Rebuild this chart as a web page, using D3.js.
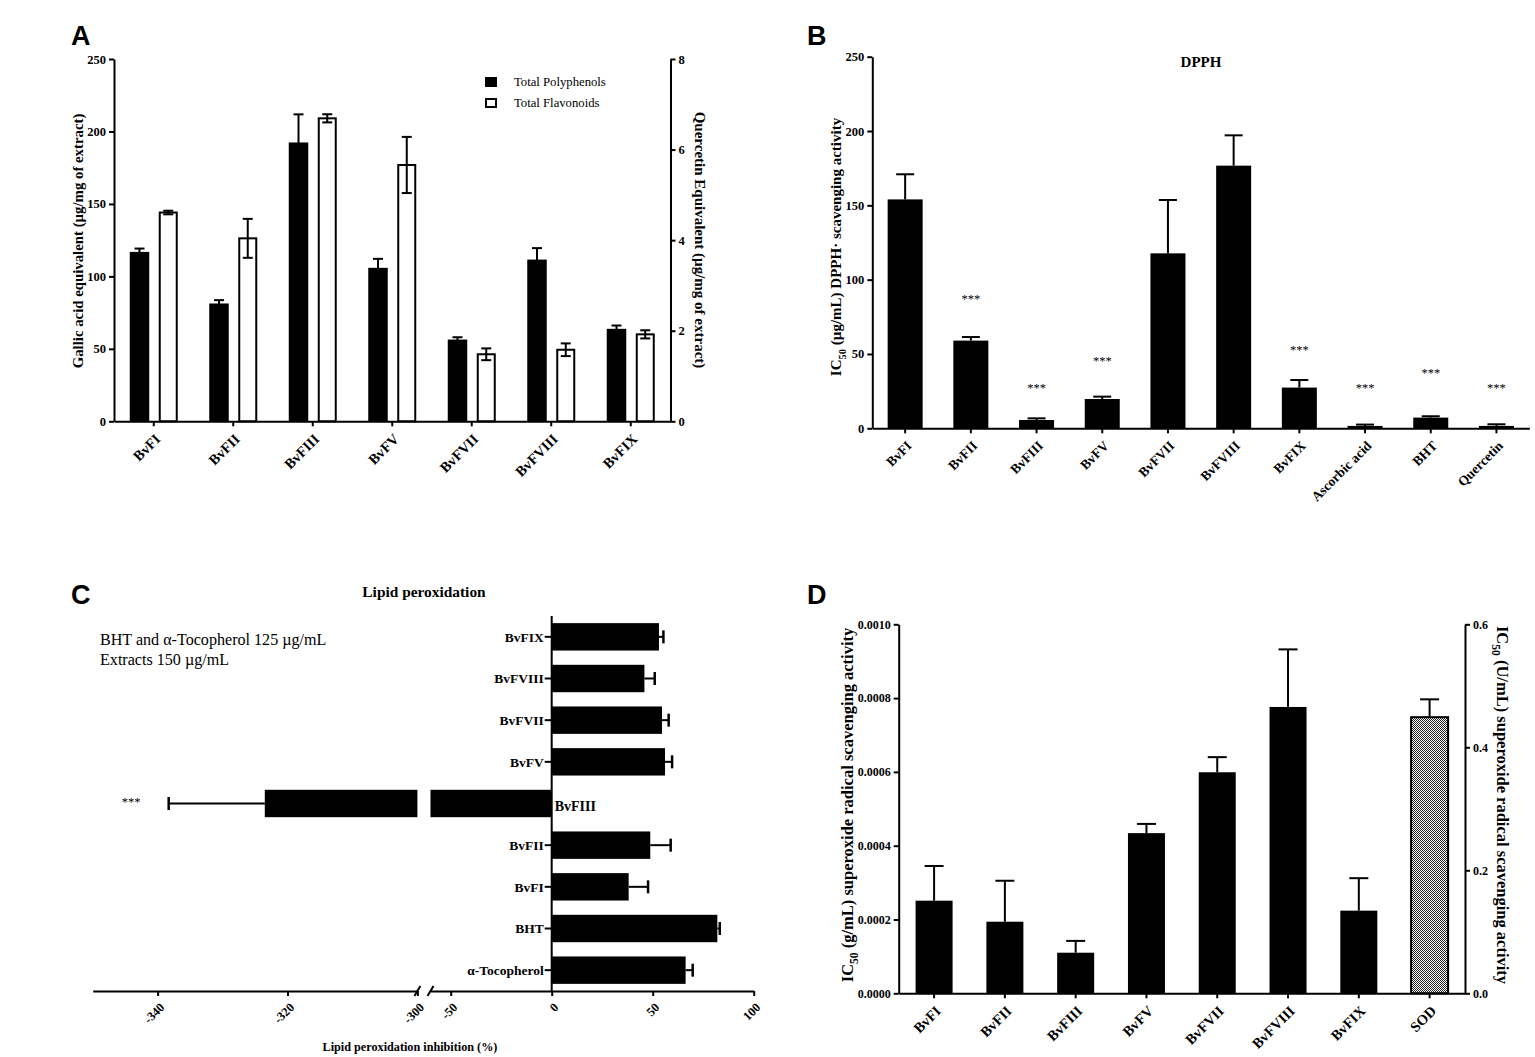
<!DOCTYPE html>
<html>
<head>
<meta charset="utf-8">
<script src="https://cdn.jsdelivr.net/npm/d3@7"></script>
<style>
  body { margin: 0; background: #fff; }
</style>
</head>
<body>
<div id="chart"></div>
<script>
// ---- data ----
// A: total polyphenols (left axis) and flavonoids (right axis)
var catsA = ["BvFI", "BvFII", "BvFIII", "BvFV", "BvFVII", "BvFVIII", "BvFIX"];
var polyphenols = [116.9, 81.3, 192.4, 105.9, 56.4, 111.6, 63.8];
var polyphenolsErr = [2.3, 2.3, 19.4, 6.2, 1.6, 7.9, 2.3];
var flavonoids = [4.61, 4.04, 6.69, 5.66, 1.48, 1.58, 1.92];
var flavonoidsErr = [0.04, 0.43, 0.09, 0.62, 0.13, 0.14, 0.09];
var ticksA = [0, 50, 100, 150, 200, 250];
var ticksA2 = [0, 2, 4, 6, 8];

// B: DPPH IC50
var catsB = ["BvFI", "BvFII", "BvFIII", "BvFV", "BvFVII", "BvFVIII", "BvFIX", "Ascorbic acid", "BHT", "Quercetin"];
var dpph = [154.0, 59.0, 5.6, 19.7, 117.7, 176.7, 27.4, 1.6, 7.2, 1.6];
var dpphErr = [16.9, 2.4, 1.1, 1.6, 35.9, 20.4, 5.1, 0.9, 0.9, 1.1];
var dpphSig = ["", "***", "***", "***", "", "", "***", "***", "***", "***"];
var dpphSigLevel = [0, 87, 27.6, 45.3, 0, 0, 52.7, 27.6, 37.4, 27.6];
var ticksB = [0, 50, 100, 150, 200, 250];

// C: lipid peroxidation inhibition (bottom to top)
var catsC = ["α-Tocopherol", "BHT", "BvFI", "BvFII", "BvFIII", "BvFV", "BvFVII", "BvFVIII", "BvFIX"];
var lipid = [66.3, 82.0, 38.1, 48.8, -323.5, 56.1, 54.6, 45.9, 53.1];
var lipidErr = [3.5, 1.2, 9.6, 10.1, 14.8, 3.5, 3.3, 5.1, 2.2];
var lipidSig = ["", "", "", "", "***", "", "", "", ""];
var ticksCLeft = [-340, -320, -300];
var ticksCRight = [-50, 0, 50, 100];

// D: superoxide radical scavenging IC50
var catsD = ["BvFI", "BvFII", "BvFIII", "BvFV", "BvFVII", "BvFVIII", "BvFIX", "SOD"];
var superoxide = [0.000251, 0.000194, 0.000110, 0.000434, 0.000599, 0.000776, 0.000224];
var superoxideErr = [0.000094, 0.000111, 0.000032, 0.000025, 0.000041, 0.000156, 0.000088];
var sodIC50 = [0.449];
var sodErr = [0.029];
var ticksD = [0, 0.0002, 0.0004, 0.0006, 0.0008, 0.0010];
var ticksD2 = [0, 0.2, 0.4, 0.6];

var serif = "'Liberation Serif', 'Times New Roman', serif";
var sans = "'Liberation Sans', Arial, sans-serif";

var svgWidth = 1535;
var svgHeight = 1057;

var svg = d3.select("#chart")
  .append("svg")
  .attr("width", svgWidth)
  .attr("height", svgHeight)
  .style("background", "#fff");

var defs = svg.append("defs");
var pat = defs.append("pattern")
  .attr("id", "checker")
  .attr("width", 2).attr("height", 2)
  .attr("patternUnits", "userSpaceOnUse");
pat.append("rect").attr("width", 2).attr("height", 2).attr("fill", "#fff");
pat.append("rect").attr("width", 1).attr("height", 1).attr("fill", "#222");
pat.append("rect").attr("x", 1).attr("y", 1).attr("width", 1).attr("height", 1).attr("fill", "#222");

// helpers
function styleAxis(g, size) {
  g.attr("font-family", serif).attr("font-size", size).attr("font-weight", "bold");
  g.select(".domain").attr("stroke-width", 2);
  g.selectAll(".tick line").attr("stroke-width", 2);
  return g;
}

function rotateLabels(g, dx, dy) {
  g.selectAll(".tick text")
    .attr("x", 0).attr("y", 0)
    .attr("dy", "0.35em")
    .attr("text-anchor", "end")
    .attr("transform", "translate(" + dx + "," + dy + ") rotate(-45)");
}

function panelLetter(txt, x, y) {
  svg.append("text")
    .attr("x", x).attr("y", y)
    .attr("font-family", sans)
    .attr("font-weight", "bold")
    .attr("font-size", 27)
    .text(txt);
}

function axisTitle(x, y, angle, size) {
  return svg.append("text")
    .attr("transform", "translate(" + x + "," + y + ") rotate(" + angle + ")")
    .attr("text-anchor", "middle")
    .attr("dy", "0.35em")
    .attr("font-family", serif)
    .attr("font-weight", "bold")
    .attr("font-size", size);
}

function icTitle(t, rest, size) {
  t.append("tspan").text("IC");
  t.append("tspan").attr("dy", size * 0.3).attr("font-size", size * 0.7).text("50");
  t.append("tspan").attr("dy", -size * 0.3).text(rest);
}

var plainNum = function(d) { return String(d); };

// =========================== Panel A ===========================
var frameA = { left: 114, right: 670.5, top: 59, bottom: 421.3 };
var xA = d3.scaleBand().domain(catsA).range([frameA.left, frameA.right]);
var yA = d3.scaleLinear().domain([0, 250]).range([frameA.bottom, frameA.top]);
var yA2 = d3.scaleLinear().domain([0, 8]).range([frameA.bottom, frameA.top]);
var midA = function(c) { return xA(c) + xA.bandwidth() / 2; };

var gA = svg.append("g");

// polyphenol bars (black)
gA.selectAll(".poly")
  .data(catsA)
  .enter()
  .append("rect")
  .attr("x", d => midA(d) - 24)
  .attr("width", 19.5)
  .attr("y", (d, i) => yA(polyphenols[i]))
  .attr("height", (d, i) => frameA.bottom - yA(polyphenols[i]))
  .attr("fill", "#000");

// flavonoid bars (white, right axis)
gA.selectAll(".flav")
  .data(catsA)
  .enter()
  .append("rect")
  .attr("x", d => midA(d) + 6)
  .attr("width", 17)
  .attr("y", (d, i) => yA2(flavonoids[i]))
  .attr("height", (d, i) => frameA.bottom - yA2(flavonoids[i]))
  .attr("fill", "#fff")
  .attr("stroke", "#000")
  .attr("stroke-width", 2);

// error bars
catsA.forEach(function(c, i) {
  var xp = midA(c) - 14.25;
  var hi = yA(polyphenols[i] + polyphenolsErr[i]);
  var lo = yA(polyphenols[i] - polyphenolsErr[i]);
  gA.append("line").attr("x1", xp).attr("x2", xp).attr("y1", lo).attr("y2", hi)
    .attr("stroke", "#000").attr("stroke-width", 2);
  gA.append("line").attr("x1", xp - 5).attr("x2", xp + 5).attr("y1", hi).attr("y2", hi)
    .attr("stroke", "#000").attr("stroke-width", 2);

  var xf = midA(c) + 14.5;
  var fhi = yA2(flavonoids[i] + flavonoidsErr[i]);
  var flo = yA2(flavonoids[i] - flavonoidsErr[i]);
  gA.append("line").attr("x1", xf).attr("x2", xf).attr("y1", flo).attr("y2", fhi)
    .attr("stroke", "#000").attr("stroke-width", 2);
  [fhi, flo].forEach(function(yy) {
    gA.append("line").attr("x1", xf - 5).attr("x2", xf + 5).attr("y1", yy).attr("y2", yy)
      .attr("stroke", "#000").attr("stroke-width", 2);
  });
});

// axes
styleAxis(gA.append("g")
  .attr("transform", "translate(" + frameA.left + ",0)")
  .call(d3.axisLeft(yA).tickValues(ticksA).tickSize(5).tickSizeOuter(0).tickPadding(3)), 12.5);
styleAxis(gA.append("g")
  .attr("transform", "translate(" + frameA.right + ",0)")
  .call(d3.axisRight(yA2).tickValues(ticksA2).tickSize(5).tickSizeOuter(0).tickPadding(3)), 12.5);
var axA = styleAxis(gA.append("g")
  .attr("transform", "translate(0," + frameA.bottom + ")")
  .call(d3.axisBottom(xA).tickSize(5).tickSizeOuter(0)), 14.5);
rotateLabels(axA, 4, 15);

// legend
var legA = [["Total Polyphenols", "#000"], ["Total Flavonoids", "#fff"]];
legA.forEach(function(l, i) {
  gA.append("rect")
    .attr("x", 486).attr("y", 78 + i * 21)
    .attr("width", 10).attr("height", 8)
    .attr("fill", l[1]).attr("stroke", "#000").attr("stroke-width", 2);
  gA.append("text")
    .attr("x", 514).attr("y", 82 + i * 21)
    .attr("dy", "0.35em")
    .attr("font-family", serif).attr("font-size", 12.7)
    .text(l[0]);
});

axisTitle(78, 241, -90, 14.8).text("Gallic acid equivalent (µg/mg of extract)");
axisTitle(700, 240, 90, 15).text("Quercetin Equivalent (µg/mg of extract)");
panelLetter("A", 71, 45);

// =========================== Panel B ===========================
var frameB = { left: 872.3, right: 1529.3, top: 56.7, bottom: 428.3 };
var xB = d3.scaleBand().domain(catsB).range([frameB.left, frameB.right]);
var yB = d3.scaleLinear().domain([0, 250]).range([frameB.bottom, frameB.top]);
var midB = function(c) { return xB(c) + xB.bandwidth() / 2; };
var gB = svg.append("g");

gB.selectAll(".bar")
  .data(catsB)
  .enter()
  .append("rect")
  .attr("x", d => midB(d) - 17.5)
  .attr("width", 35)
  .attr("y", (d, i) => yB(dpph[i]))
  .attr("height", (d, i) => frameB.bottom - yB(dpph[i]))
  .attr("fill", "#000");

catsB.forEach(function(c, i) {
  var xm = midB(c);
  var hi = yB(dpph[i] + dpphErr[i]);
  gB.append("line").attr("x1", xm).attr("x2", xm).attr("y1", yB(dpph[i])).attr("y2", hi)
    .attr("stroke", "#000").attr("stroke-width", 2);
  gB.append("line").attr("x1", xm - 9).attr("x2", xm + 9).attr("y1", hi).attr("y2", hi)
    .attr("stroke", "#000").attr("stroke-width", 2);
  if (dpphSig[i]) {
    gB.append("text")
      .attr("x", xm).attr("y", yB(dpphSigLevel[i]))
      .attr("dy", "0.35em")
      .attr("text-anchor", "middle")
      .attr("font-family", serif).attr("font-size", 12.5)
      .attr("fill", "#000")
      .text(dpphSig[i]);
  }
});

styleAxis(gB.append("g")
  .attr("transform", "translate(" + frameB.left + ",0)")
  .call(d3.axisLeft(yB).tickValues(ticksB).tickSize(5).tickSizeOuter(0).tickPadding(3)), 12.5);
var axB = styleAxis(gB.append("g")
  .attr("transform", "translate(0," + frameB.bottom + ")")
  .call(d3.axisBottom(xB).tickSize(5).tickSizeOuter(0)), 13.5);
rotateLabels(axB, 4, 15);

gB.append("text")
  .attr("x", 1201).attr("y", 62)
  .attr("dy", "0.35em")
  .attr("text-anchor", "middle")
  .attr("font-family", serif).attr("font-weight", "bold").attr("font-size", 15)
  .text("DPPH");

icTitle(axisTitle(836, 247, -90, 15), " (µg/mL) DPPH· scavenging activity", 15);
panelLetter("B", 807, 45);

// =========================== Panel C ===========================
var axisYC = 991;
var xCL = d3.scaleLinear().domain([-350, -300]).range([92.7, 417.4]);
var xCR = d3.scaleLinear().domain([-60, 100]).range([430.5, 753.7]);
var yC = d3.scaleBand().domain(catsC).range([axisYC, 616]);
var midC = function(c) { return yC(c) + yC.bandwidth() / 2; };
var xAtC = function(v) { return v <= -300 ? xCL(v) : xCR(v); };
var gC = svg.append("g");

// bars, split across the axis break
catsC.forEach(function(c, i) {
  var v = lipid[i];
  var lo = Math.min(v, 0), hi = Math.max(v, 0);
  [xCL, xCR].forEach(function(sc) {
    var d = sc.domain();
    var a = Math.max(lo, d[0]), b = Math.min(hi, d[1]);
    if (b > a) {
      gC.append("rect")
        .attr("x", sc(a)).attr("width", sc(b) - sc(a))
        .attr("y", midC(c) - 13.7).attr("height", 27.4)
        .attr("fill", "#000");
    }
  });
  var end = v + (v < 0 ? -lipidErr[i] : lipidErr[i]);
  var ym = midC(c);
  gC.append("line").attr("x1", xAtC(v)).attr("x2", xAtC(end)).attr("y1", ym).attr("y2", ym)
    .attr("stroke", "#000").attr("stroke-width", 2);
  gC.append("line").attr("x1", xAtC(end)).attr("x2", xAtC(end)).attr("y1", ym - 6.5).attr("y2", ym + 6.5)
    .attr("stroke", "#000").attr("stroke-width", 2.5);
  if (lipidSig[i]) {
    gC.append("text")
      .attr("x", 131).attr("y", ym - 2)
      .attr("dy", "0.35em")
      .attr("text-anchor", "middle")
      .attr("font-family", serif).attr("font-size", 12.5)
      .attr("fill", "#000")
      .text(lipidSig[i]);
  }
});

// category axis at zero
var zeroX = xCR(0);
gC.append("line").attr("x1", zeroX).attr("x2", zeroX).attr("y1", 616).attr("y2", axisYC)
  .attr("stroke", "#000").attr("stroke-width", 2);
catsC.forEach(function(c, i) {
  var neg = lipid[i] < 0;
  if (!neg) {
    gC.append("line").attr("x1", zeroX - 7).attr("x2", zeroX).attr("y1", midC(c)).attr("y2", midC(c))
      .attr("stroke", "#000").attr("stroke-width", 2);
  }
  gC.append("text")
    .attr("x", neg ? zeroX + 3 : zeroX - 8)
    .attr("y", midC(c) + (neg ? 3 : 0))
    .attr("dy", "0.35em")
    .attr("text-anchor", neg ? "start" : "end")
    .attr("font-family", serif).attr("font-weight", "bold").attr("font-size", neg ? 14 : 13.5)
    .text(c);
});

var axCL = styleAxis(gC.append("g")
  .attr("transform", "translate(0," + axisYC + ")")
  .call(d3.axisBottom(xCL).tickValues(ticksCLeft).tickFormat(plainNum).tickSize(5).tickSizeOuter(0)), 12.5);
rotateLabels(axCL, 4, 14);
var axCR = styleAxis(gC.append("g")
  .attr("transform", "translate(0," + axisYC + ")")
  .call(d3.axisBottom(xCR).tickValues(ticksCRight).tickFormat(plainNum).tickSize(5).tickSizeOuter(0)), 12.5);
rotateLabels(axCR, 4, 14);

// break marks
[xCL(-300), xCR(-60)].forEach(function(bx) {
  gC.append("line").attr("x1", bx - 3).attr("x2", bx + 3).attr("y1", axisYC + 5).attr("y2", axisYC - 5)
    .attr("stroke", "#000").attr("stroke-width", 2);
});

gC.append("text")
  .attr("x", 424).attr("y", 592)
  .attr("dy", "0.35em")
  .attr("text-anchor", "middle")
  .attr("font-family", serif).attr("font-weight", "bold").attr("font-size", 15.4)
  .text("Lipid peroxidation");

var note = gC.append("text")
  .attr("font-family", serif).attr("font-size", 16.1);
note.append("tspan").attr("x", 100).attr("y", 645).text("BHT and α-Tocopherol 125 µg/mL");
note.append("tspan").attr("x", 100).attr("y", 665).text("Extracts 150 µg/mL");

axisTitle(410, 1047, 0, 12.2).text("Lipid peroxidation inhibition (%)");
panelLetter("C", 71, 604);

// =========================== Panel D ===========================
var frameD = { left: 898.7, right: 1465, top: 624.3, bottom: 993.3 };
var xD = d3.scaleBand().domain(catsD).range([frameD.left, frameD.right]);
var yD = d3.scaleLinear().domain([0, 0.001]).range([frameD.bottom, frameD.top]);
var yD2 = d3.scaleLinear().domain([0, 0.6]).range([frameD.bottom, frameD.top]);
var midD = function(c) { return xD(c) + xD.bandwidth() / 2; };
var gD = svg.append("g");

var barsD = catsD.map(function(c, i) {
  if (i < superoxide.length) {
    return { c: c, top: yD(superoxide[i]), err: yD(superoxide[i] + superoxideErr[i]), fill: "#000" };
  }
  var k = i - superoxide.length;
  return { c: c, top: yD2(sodIC50[k]), err: yD2(sodIC50[k] + sodErr[k]), fill: "url(#checker)" };
});

gD.selectAll(".bar")
  .data(barsD)
  .enter()
  .append("rect")
  .attr("x", d => midD(d.c) - 18.5)
  .attr("width", 37)
  .attr("y", d => d.top)
  .attr("height", d => frameD.bottom - d.top)
  .attr("fill", d => d.fill)
  .attr("stroke", "#000")
  .attr("stroke-width", d => d.fill === "#000" ? 0 : 2);

barsD.forEach(function(d) {
  var xm = midD(d.c);
  gD.append("line").attr("x1", xm).attr("x2", xm).attr("y1", d.top).attr("y2", d.err)
    .attr("stroke", "#000").attr("stroke-width", 2);
  gD.append("line").attr("x1", xm - 9.5).attr("x2", xm + 9.5).attr("y1", d.err).attr("y2", d.err)
    .attr("stroke", "#000").attr("stroke-width", 2);
});

styleAxis(gD.append("g")
  .attr("transform", "translate(" + frameD.left + ",0)")
  .call(d3.axisLeft(yD).tickValues(ticksD).tickFormat(d3.format(".4f")).tickSize(5).tickSizeOuter(0).tickPadding(3)), 12);
styleAxis(gD.append("g")
  .attr("transform", "translate(" + frameD.right + ",0)")
  .call(d3.axisRight(yD2).tickValues(ticksD2).tickFormat(d3.format(".1f")).tickSize(5).tickSizeOuter(0).tickPadding(3)), 12);
var axD = styleAxis(gD.append("g")
  .attr("transform", "translate(0," + frameD.bottom + ")")
  .call(d3.axisBottom(xD).tickSize(5).tickSizeOuter(0)), 14.5);
rotateLabels(axD, 4, 15);

icTitle(axisTitle(847, 805, -90, 16.5), " (g/mL) superoxide radical scavenging activity", 16.5);
icTitle(axisTitle(1503, 805, 90, 16.5), " (U/mL) superoxide radical scavenging activity", 16.5);
panelLetter("D", 807, 604);
</script>
</body>
</html>
